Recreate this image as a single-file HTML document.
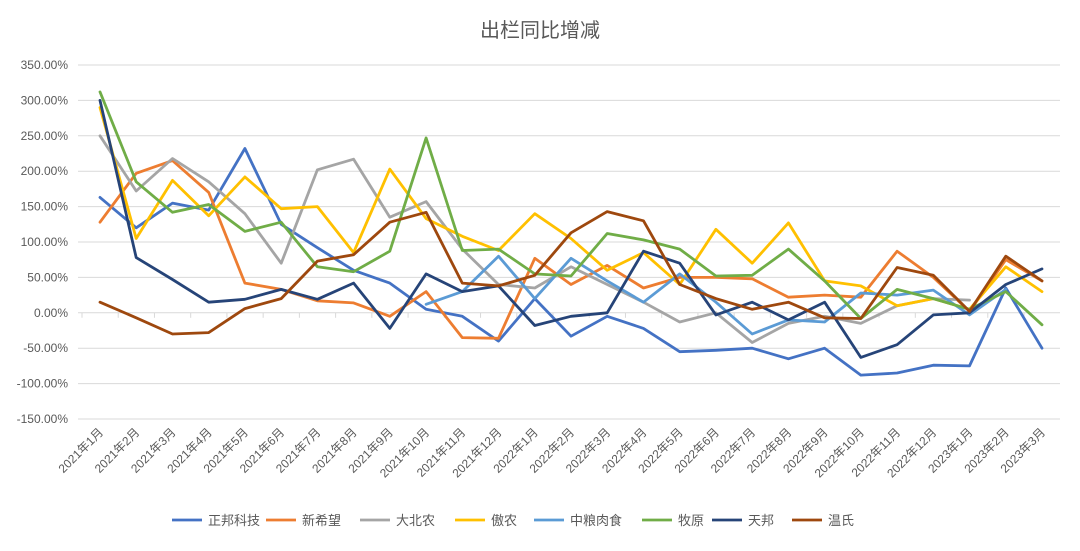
<!DOCTYPE html>
<html><head><meta charset="utf-8"><style>
body{margin:0;background:#fff;font-family:"Liberation Sans","Noto Sans CJK SC",sans-serif;}
svg text{font-family:"Liberation Sans","Noto Sans CJK SC",sans-serif;}
</style></head><body>
<svg id="chart" width="1080" height="546" xmlns="http://www.w3.org/2000/svg">
<rect width="1080" height="546" fill="#fff"/>
<text x="540" y="37" text-anchor="middle" font-size="20" fill="#595959">出栏同比增减</text>
<g id="grid"></g><g id="ylab"></g><g id="xlab"></g><g id="lines"></g><g id="legend"></g>
</svg>
<script>
const categories=["2021年1月","2021年2月","2021年3月","2021年4月","2021年5月","2021年6月","2021年7月","2021年8月","2021年9月","2021年10月","2021年11月","2021年12月","2022年1月","2022年2月","2022年3月","2022年4月","2022年5月","2022年6月","2022年7月","2022年8月","2022年9月","2022年10月","2022年11月","2022年12月","2023年1月","2023年2月","2023年3月"];
const seriesNames=["正邦科技","新希望","大北农","傲农","中粮肉食","牧原","天邦","温氏"];
const seriesColors=["#4472C4","#ED7D31","#A5A5A5","#FFC000","#5B9BD5","#70AD47","#264478","#9E480E"];
const zhengbang=[163,120,155,145,232,125,92,60,42,5,-5,-40,20,-33,-5,-22,-55,-53,-50,-65,-50,-88,-85,-74,-75,35,-50];
const xinxiwang=[128,197,215,170,42,33,17,14,-5,30,-35,-36,77,40,67,35,50,50,48,22,25,22,87,50,2,75,45];
const dabeinong=[250,172,218,185,140,70,202,217,135,157,90,40,35,65,40,15,-13,0,-42,-15,-5,-15,10,20,18,null,null];
const aonong=[290,105,187,137,192,147,150,85,203,133,108,88,140,105,60,85,40,118,70,127,45,38,10,20,5,65,30];
const zhongliang=[null,null,null,null,null,null,null,null,null,12,30,80,20,77,45,15,55,15,-30,-10,-13,28,25,32,-3,33,null];
const muyuan=[312,185,142,153,115,128,65,58,87,247,88,90,55,52,112,103,90,52,53,90,45,-8,33,20,5,30,-17];
const tianbang=[300,78,47,15,19,33,19,42,-22,55,30,38,-18,-5,0,87,70,-3,15,-10,15,-63,-45,-3,0,40,62];
const wenshi=[15,-7,-30,-28,6,20,73,82,128,142,42,38,53,113,143,130,40,20,5,15,-7,-8,64,53,2,80,45];
const seriesData=[zhengbang,xinxiwang,dabeinong,aonong,zhongliang,muyuan,tianbang,wenshi];
const yTicks=[350,300,250,200,150,100,50,0,-50,-100,-150];
const NS="http://www.w3.org/2000/svg";
const x0=100,x1=1042,yTop=65,yBot=419,vMax=350,vMin=-150;
const xs=i=>x0+(x1-x0)*i/(categories.length-1);
const ys=v=>yTop+(vMax-v)/(vMax-vMin)*(yBot-yTop);
function mk(tag,attrs,parent){const e=document.createElementNS(NS,tag);for(const k in attrs)e.setAttribute(k,attrs[k]);parent.appendChild(e);return e;}
const grid=document.getElementById('grid'),ylab=document.getElementById('ylab'),xlab=document.getElementById('xlab'),lines=document.getElementById('lines'),legend=document.getElementById('legend');
yTicks.forEach(t=>{
 const g=mk('line',{x1:78,x2:1060,y1:ys(t),y2:ys(t),stroke:'#d9d9d9','stroke-width':1},grid);
 
 
 const l=mk('text',{x:68,y:ys(t)+4,'text-anchor':'end','font-size':12,fill:'#595959'},ylab);
 l.textContent=t.toFixed(2)+'%';
 
 
});
categories.forEach((c,i)=>{
 const tk=mk('line',{x1:xs(i)-18,x2:xs(i)-18,y1:ys(0),y2:ys(0)+5,stroke:'#d9d9d9'},grid);
 
 
 const x=xs(i)+4,y=433;
 const t=mk('text',{x:x,y:y,'text-anchor':'end','font-size':12,fill:'#595959',transform:`rotate(-45 ${x} ${y})`},xlab);
 t.textContent=c;
 
 
});
seriesData.forEach((d,si)=>{
 let segs=[],cur=[];
 d.forEach((v,i)=>{if(v===null){if(cur.length)segs.push(cur);cur=[];}else cur.push(xs(i).toFixed(1)+','+ys(v).toFixed(1));});
 if(cur.length)segs.push(cur);
 segs.forEach(s=>{
  const p=mk('polyline',{points:s.join(' '),fill:'none',stroke:seriesColors[si],'stroke-width':2.8,'stroke-linejoin':'round','stroke-linecap':'round'},lines);
  
  
 });
});
const lx=[172,266,360,455,534,642,712,792];
seriesNames.forEach((n,i)=>{
 const g=mk('g',{},legend);
 
 
 mk('line',{x1:lx[i],x2:lx[i]+30,y1:520,y2:520,stroke:seriesColors[i],'stroke-width':2.8},g);
 const t=mk('text',{x:lx[i]+36,y:525,'font-size':13,fill:'#595959'},g);
 t.textContent=n;
});
</script>
</body></html>
